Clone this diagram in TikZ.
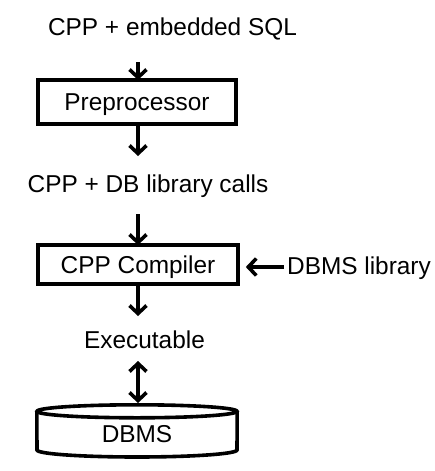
\documentclass[tikz,border=0pt]{standalone}
\usepackage{fontspec}
\setmainfont{Liberation Sans}
\usetikzlibrary{arrows.meta}
\begin{document}
\begin{tikzpicture}[x=1pt,y=-1pt,
  every node/.style={font=\fontsize{24.4}{29}\selectfont, inner sep=0pt},
  lbl/.style={anchor=base},
  procbox/.style={draw, line width=3.6pt, minimum width=198pt, text height=17.5pt, text depth=0pt},
  conn/.style={line width=3.6pt, -{Straight Barb[length=8pt,width=17pt,line width=3.6pt]}},
  dconn/.style={line width=3.6pt, {Straight Barb[length=8pt,width=17pt,line width=3.6pt]}-{Straight Barb[length=8pt,width=17pt,line width=3.6pt]}}
]
\useasboundingbox (0,0) rectangle (435,471);
\node[lbl] (src) at (172.5,35) {CPP + embedded SQL};
\node[procbox, minimum height=44pt] (pre) at (137,102) {Preprocessor};
\node[lbl] (mid) at (148,192) {CPP + DB library calls};
\node[procbox, minimum width=200pt, minimum height=39pt] (comp) at (138,264.5) {CPP Compiler};
\node[lbl] (lib) at (359,274) {DBMS library};
\node[lbl] (exe) at (144.5,348) {Executable};
% DBMS cylinder
\node[minimum width=200pt, minimum height=52pt] (db) at (137,431) {};
\node[lbl] at (137,442) {DBMS};
\draw[line width=3.6pt] ([yshift=-6.5pt]db.north) ellipse [x radius=100pt, y radius=6.5pt];
\draw[line width=3.6pt] ([yshift=-6.5pt]db.north west) -- (37,450)
  arc[start angle=180, end angle=360, x radius=100pt, y radius=7pt] -- ([yshift=-6.5pt]db.north east);
\coordinate (a1s) at (138,62);
\coordinate (a2e) at (138,156);
\coordinate (a3s) at (138,214);
\coordinate (a4e) at (138,316);
\coordinate (lbs) at (284,267);
\coordinate (exb) at (138,361);
\draw[conn] (a1s) -- ([yshift=-1.8pt]a1s |- pre.north);
\draw[conn] ([yshift=1.8pt]a1s |- pre.south) -- (a2e);
\draw[conn] (a3s) -- ([yshift=-1.8pt]a3s |- comp.north);
\draw[conn] ([yshift=1.8pt]a3s |- comp.south) -- (a4e);
\draw[conn] (lbs) -- ([xshift=6pt]comp.east |- lbs);
\draw[dconn] (exb) -- ([yshift=1.8pt]exb |- db.north);
\end{tikzpicture}
\end{document}
